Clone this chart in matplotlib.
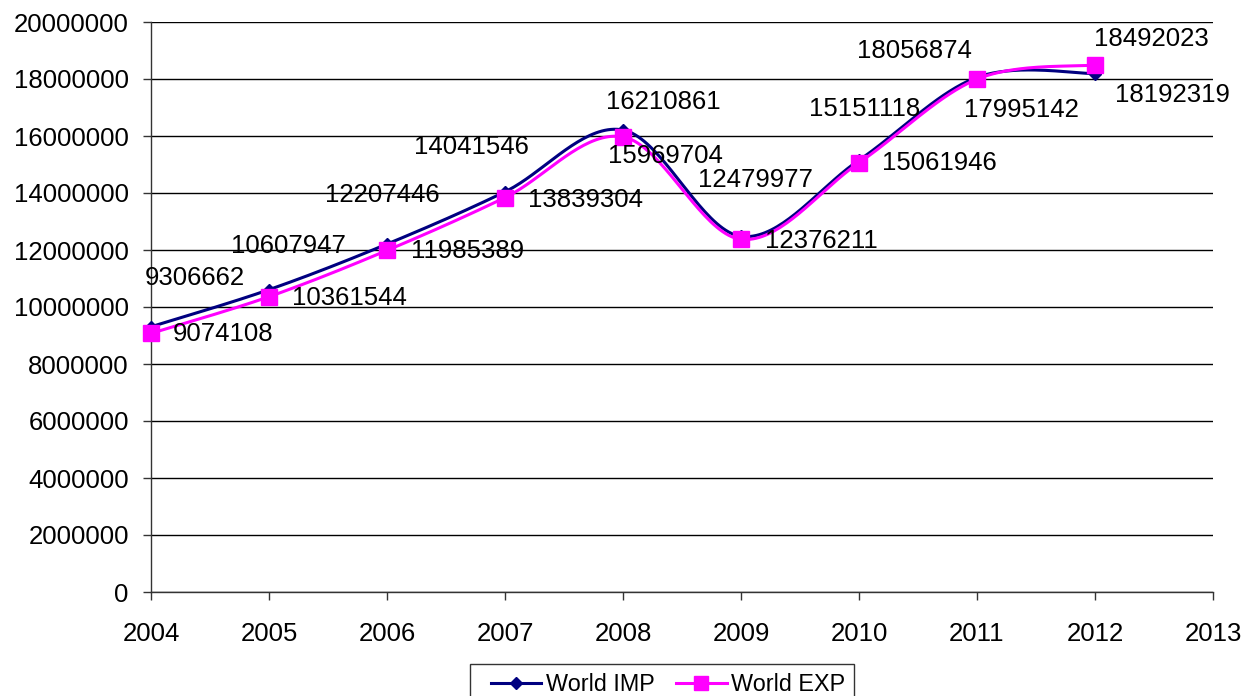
import numpy as np
import matplotlib
matplotlib.use("Agg")
import matplotlib.pyplot as plt
from matplotlib.lines import Line2D
from matplotlib.legend_handler import HandlerLine2D

plt.rcParams['font.family'] = ['Liberation Sans', 'DejaVu Sans']

years = [2004, 2005, 2006, 2007, 2008, 2009, 2010, 2011, 2012]
world_imp = [9306662, 10607947, 12207446, 14041546, 16210861, 12479977, 15151118, 18056874, 18192319]
world_exp = [9074108, 10361544, 11985389, 13839304, 15969704, 12376211, 15061946, 17995142, 18492023]
x_ticks = [2004, 2005, 2006, 2007, 2008, 2009, 2010, 2011, 2012, 2013]
y_ticks = [0, 2000000, 4000000, 6000000, 8000000, 10000000, 12000000, 14000000, 16000000, 18000000, 20000000]

# label offsets in pixels from each point (dx, dy)
imp_offsets = [(44, 49), (19, 44), (-5, 49), (-34, 45), (40, 28), (14, 56), (6, 51), (-63, 26), (77, -21)]
exp_offsets = [(72, -1), (80, -1), (81, -1), (80, -2), (42, -19), (80, -2), (80, 0), (44, -31), (56, 26)]

FS = 18.5
LEG_FS = 16.8


def smooth(xs, ys, n=40):
    """Cubic Bezier smoothing through every point (Catmull-Rom style tangents)."""
    p = np.column_stack([xs, ys]).astype(float)
    out = []
    for i in range(len(p) - 1):
        p0 = p[i - 1] if i > 0 else p[i]
        p1, p2 = p[i], p[i + 1]
        p3 = p[i + 2] if i + 2 < len(p) else p[i + 1]
        c1 = p1 + (p2 - p0) / 6.0
        c2 = p2 - (p3 - p1) / 6.0
        t = np.linspace(0, 1, n)[:, None]
        seg = ((1 - t) ** 3) * p1 + 3 * ((1 - t) ** 2) * t * c1 + 3 * (1 - t) * t ** 2 * c2 + t ** 3 * p2
        out.append(seg if i == 0 else seg[1:])
    s = np.vstack(out)
    return s[:, 0], s[:, 1]


fig = plt.figure(figsize=(12.49, 6.96), dpi=100)
ax = fig.add_axes([151 / 1249, 104 / 696, (1213 - 151) / 1249, (592 - 22) / 696])

navy = '#000080'
magenta = '#FF00FF'

sx, sy = smooth(years, world_imp)
ax.plot(sx, sy, color=navy, lw=2.2, zorder=3, clip_on=False)
ax.plot(years, world_imp, ls='none', marker='D', ms=6.5, color=navy, zorder=4, clip_on=False)

sx, sy = smooth(years, world_exp)
ax.plot(sx, sy, color=magenta, lw=2.2, zorder=3, clip_on=False)
ax.plot(years, world_exp, ls='none', marker='s', ms=11, color=magenta, zorder=5, clip_on=False)

for x, y, (dx, dy) in zip(years, world_imp, imp_offsets):
    ax.annotate(str(y), (x, y), xytext=(dx, dy), textcoords='offset pixels',
                ha='center', va='center', fontsize=FS, zorder=6)
for x, y, (dx, dy) in zip(years, world_exp, exp_offsets):
    ax.annotate(str(y), (x, y), xytext=(dx, dy), textcoords='offset pixels',
                ha='center', va='center', fontsize=FS, zorder=6)

ax.set_xlim(2004, 2013)
ax.set_ylim(0, 20000000)
ax.set_xticks(x_ticks)
ax.set_yticks(y_ticks)
ax.set_xticklabels([str(v) for v in x_ticks])
ax.set_yticklabels([str(v) for v in y_ticks])
ax.tick_params(labelsize=FS, length=6, width=1, color='#333333')
ax.tick_params(axis='y', pad=10)
ax.tick_params(axis='x', pad=15.5)
ax.grid(axis='y', color='black', lw=1)
ax.set_axisbelow(True)
for side in ['top', 'right']:
    ax.spines[side].set_visible(False)
for side in ['left', 'bottom']:
    ax.spines[side].set_color('#333333')
    ax.spines[side].set_linewidth(1)

h_imp = Line2D([], [], color=navy, lw=2.2, marker='D', ms=6.5)
h_exp = Line2D([], [], color=magenta, lw=2.2, marker='s', ms=10)
fig.legend([h_imp, h_exp], ['World IMP', 'World EXP'], loc='upper center',
           bbox_to_anchor=(662 / 1249, 1 - 664 / 696), ncol=2, fontsize=LEG_FS,
           frameon=True, fancybox=False, edgecolor='#333333', framealpha=1,
           borderaxespad=0, handlelength=2.68, columnspacing=0.4,
           handletextpad=0.19, borderpad=0.4,
           handler_map={Line2D: HandlerLine2D(xpad=0.5)})

fig.savefig('out.png', dpi=100)
